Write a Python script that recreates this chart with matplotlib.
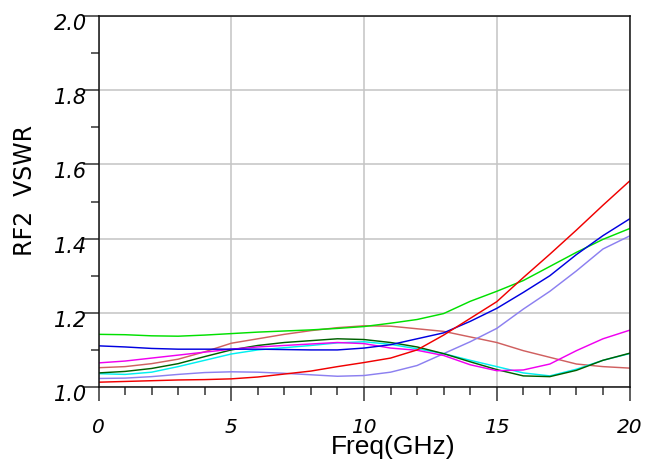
import matplotlib
matplotlib.use("Agg")
import matplotlib.pyplot as plt
import matplotlib.transforms as mtransforms
from matplotlib.ticker import MultipleLocator
import numpy as np

freq = list(range(0, 21))

green = [1.142, 1.141, 1.138, 1.137, 1.140, 1.144, 1.148, 1.151, 1.154, 1.158, 1.163,
         1.172, 1.182, 1.198, 1.231, 1.258, 1.287, 1.325, 1.363, 1.398, 1.427]
blue = [1.111, 1.108, 1.104, 1.102, 1.102, 1.102, 1.102, 1.101, 1.100, 1.100, 1.105,
        1.114, 1.130, 1.146, 1.177, 1.212, 1.255, 1.300, 1.357, 1.408, 1.453]
red = [1.013, 1.015, 1.017, 1.019, 1.020, 1.022, 1.027, 1.035, 1.043, 1.055, 1.066,
       1.078, 1.100, 1.140, 1.185, 1.230, 1.295, 1.358, 1.423, 1.490, 1.555]
magenta = [1.065, 1.070, 1.078, 1.086, 1.094, 1.102, 1.108, 1.112, 1.116, 1.120, 1.117,
           1.105, 1.099, 1.085, 1.060, 1.044, 1.046, 1.062, 1.098, 1.130, 1.153]
brown = [1.052, 1.055, 1.063, 1.075, 1.095, 1.118, 1.130, 1.142, 1.152, 1.160, 1.165,
         1.164, 1.157, 1.150, 1.135, 1.120, 1.098, 1.080, 1.062, 1.055, 1.051]
darkgreen = [1.038, 1.042, 1.050, 1.063, 1.082, 1.100, 1.112, 1.120, 1.125, 1.130, 1.128,
             1.120, 1.108, 1.090, 1.068, 1.047, 1.030, 1.028, 1.045, 1.072, 1.091]
cyan = [1.036, 1.034, 1.040, 1.055, 1.072, 1.089, 1.100, 1.106, 1.112, 1.119, 1.122,
        1.115, 1.103, 1.090, 1.072, 1.055, 1.038, 1.030, 1.048, 1.072, 1.090]
purple = [1.023, 1.024, 1.028, 1.034, 1.039, 1.041, 1.040, 1.037, 1.033, 1.029, 1.031,
          1.040, 1.058, 1.090, 1.122, 1.158, 1.210, 1.258, 1.313, 1.372, 1.407]

series = [
    (brown, "#d06060"),
    (purple, "#8c80f0"),
    (cyan, "#00f0f0"),
    (darkgreen, "#006000"),
    (magenta, "#f000f0"),
    (green, "#00e000"),
    (blue, "#0000e0"),
    (red, "#f00000"),
]

x_ticks = [0, 5, 10, 15, 20]
y_ticks = [1.0, 1.2, 1.4, 1.6, 1.8, 2.0]

fig = plt.figure(figsize=(6.58, 4.74), dpi=100)
ax = fig.add_axes([0.1497, 0.1835, 0.807, 0.7827])

for vals, col in series:
    ax.plot(freq, vals, color=col, lw=1.05)

ax.set_xlim(0, 20)
ax.set_ylim(1.0, 2.0)
ax.set_xticks(x_ticks)
ax.set_yticks(y_ticks)
ax.set_xticklabels([str(t) for t in x_ticks])
ax.set_yticklabels([f"{t:.1f}" for t in y_ticks])
ax.xaxis.set_minor_locator(MultipleLocator(1))
ax.yaxis.set_minor_locator(MultipleLocator(0.1))
ax.grid(True, which="major", color="#c4c4c4", lw=1.1)
ax.set_axisbelow(True)

for s in ax.spines.values():
    s.set_color("#111111")
    s.set_linewidth(1.1)

ax.tick_params(axis="x", which="major", length=10, width=1.1, color="#333333",
               direction="out", pad=12, labelsize=14.5)
ax.tick_params(axis="x", which="minor", length=5.5, width=1.1, color="#333333", direction="out")
ax.tick_params(axis="y", which="major", length=11.5, width=1.1, color="#333333",
               direction="out", pad=-3, labelsize=15)
ax.tick_params(axis="y", which="minor", length=6, width=1.1, color="#333333", direction="out")

for lab in ax.get_xticklabels() + ax.get_yticklabels():
    lab.set_fontstyle("italic")
    lab.set_family("DejaVu Sans")

offset = mtransforms.ScaledTranslation(0, -6 / 100, fig.dpi_scale_trans)
for lab in ax.get_yticklabels():
    lab.set_transform(lab.get_transform() + offset)

fig.text(25 / 658, 1 - 190 / 474, "RF2  VSWR", rotation=90, ha="center", va="center",
         fontsize=17, family="DejaVu Sans")
fig.text(393 / 658, 1 - 447 / 474, "Freq(GHz)", ha="center", va="center",
         fontsize=19, family="Liberation Sans")

fig.savefig("out.png", dpi=100)
